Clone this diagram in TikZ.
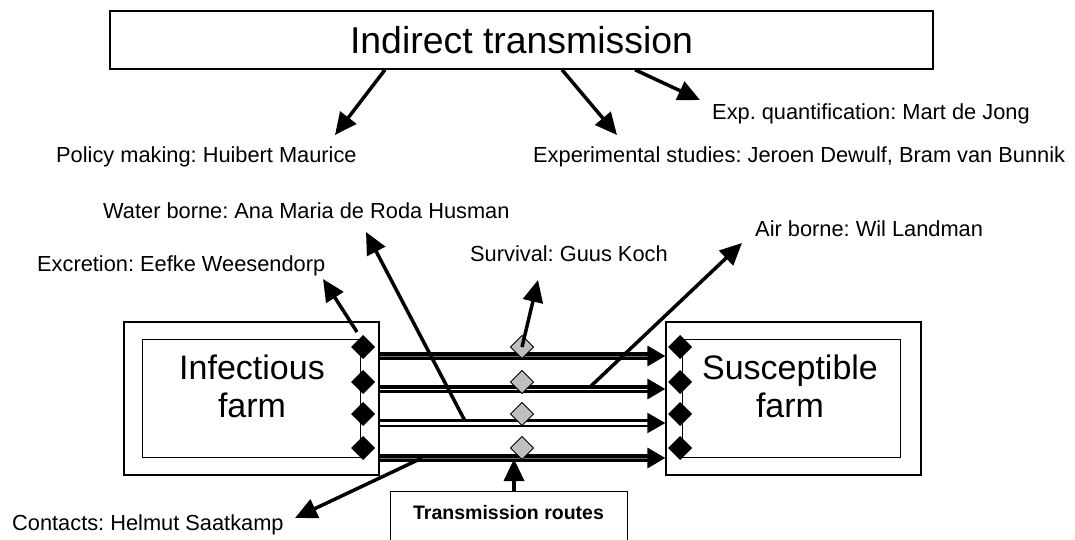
\documentclass[tikz,border=0pt]{standalone}
\usepackage{fontspec}
\setmainfont{Liberation Sans}
\frenchspacing
\usetikzlibrary{shapes.geometric, arrows.meta}
\tikzstyle{titlebox} = [rectangle, minimum width=823pt, minimum height=58pt, text centered, draw=black, line width=1.5pt, font=\fontsize{37.4}{40}\selectfont]
\tikzstyle{farmouter} = [rectangle, minimum width=255pt, minimum height=153pt, draw=black, line width=1.3pt]
\tikzstyle{farminner} = [rectangle, minimum width=218pt, minimum height=118pt, draw=black, line width=0.9pt]
\tikzstyle{farmtext} = [align=center, inner sep=0pt, font=\fontsize{34}{38}\selectfont]
\tikzstyle{blackdia} = [diamond, minimum width=24pt, minimum height=24pt, inner sep=0pt, outer sep=0pt, fill=black]
\tikzstyle{greydia} = [diamond, minimum width=23pt, minimum height=23pt, inner sep=0pt, outer sep=0pt, draw=black, line width=0.8pt, fill=gray!50]
\tikzstyle{person} = [inner sep=0pt, anchor=base west, font=\fontsize{21.8}{24}\selectfont]
\tikzstyle{routebox} = [rectangle, anchor=north, minimum width=237pt, draw=black, line width=1pt, inner ysep=14pt, text height=14pt, text depth=30pt, font=\bfseries\fontsize{19.5}{22}\selectfont]
\tikzstyle{arrow} = [line width=3.5pt, -{Triangle[length=22pt, width=20pt]}]
\tikzstyle{route} = [-{Triangle[length=18pt, width=20pt]}]
\tikzstyle{thickroute} = [route, line width=3.4pt, double=black!55, double distance=0.8pt]
\tikzstyle{midroute} = [route, line width=3.2pt, double=white, double distance=0.8pt]
\tikzstyle{openroute} = [route, line width=2.2pt, double=white, double distance=3pt]

\begin{document}
\begin{tikzpicture}[x=1pt, y=-1pt]
\useasboundingbox (0,0) rectangle (1075,540);

\node (title) [titlebox] at (521.5,40) {Indirect transmission};

\node (infout) [farmouter] at (251.5,398.5) {};
\node (infin) [farminner] at (251,398) {};
\node (inftext) [farmtext] at (252,386) {Infectious\\farm};
\node (susout) [farmouter] at (793.5,398.5) {};
\node (susin) [farminner] at (791,398) {};
\node (sustext) [farmtext] at (790,386) {Susceptible\\farm};

\node (routes) [routebox] at (508.5,491) {Transmission routes};

% labels
\node (policy) [person] at (56,163) {Policy making: Huibert Maurice};
\node (expstud) [person] at (533,163) {Experimental studies: Jeroen Dewulf, Bram van Bunnik};
\node (expquant) [person] at (712,120) {Exp. quantification: Mart de Jong};
\node (water) [person] at (103,218) {Water borne: Ana Maria de Roda Husman};
\node (air) [person] at (755,236) {Air borne: Wil Landman};
\node (excr) [person] at (37,271) {Excretion: Eefke Weesendorp};
\node (surv) [person] at (470,261) {Survival: Guus Koch};
\node (contacts) [person] at (12,530) {Contacts: Helmut Saatkamp};

% routes between the farms
\foreach \y/\sty in {356/thickroute, 389/midroute, 423/openroute, 458/thickroute}
  \draw[style=\sty] (infout.east |- 0,\y) -- (susout.west |- 0,\y);

\foreach \y [count=\i] in {347,382,414,448} {
  \node (ld\i) [blackdia] at (363,\y) {};
  \node (rd\i) [blackdia] at (680,\y) {};
  \node (gd\i) [greydia] at (522,\y) {};
}

\coordinate (policytip) at (335,135);
\coordinate (expstudtip) at (617,135);
\coordinate (expquanttip) at (700,100);
\coordinate (waterfoot) at (465,421);
\coordinate (watertip) at (366,232);
\coordinate (airfoot) at (590,387);
\coordinate (airtip) at (742,243);
\coordinate (excrfoot) at (357,332);
\coordinate (excrtip) at (323,279);
\coordinate (survtip) at (538,280);
\coordinate (contfoot) at (422,458);
\coordinate (conttip) at (295,518);
\coordinate (routetip) at (514,459);

\draw[arrow] ([xshift=-136.5pt]title.south) -- (policytip);
\draw[arrow] ([xshift=40.5pt]title.south) -- (expstudtip);
\draw[arrow] ([xshift=113.5pt]title.south) -- (expquanttip);
\draw[arrow] (waterfoot) -- (watertip);
\draw[arrow] (airfoot) -- (airtip);
\draw[arrow] (excrfoot) -- (excrtip);
\draw[arrow] (gd1.center) -- (survtip);
\draw[arrow] (contfoot) -- (conttip);
\draw[arrow] (routes.north -| routetip) -- (routetip);

\end{tikzpicture}
\end{document}
